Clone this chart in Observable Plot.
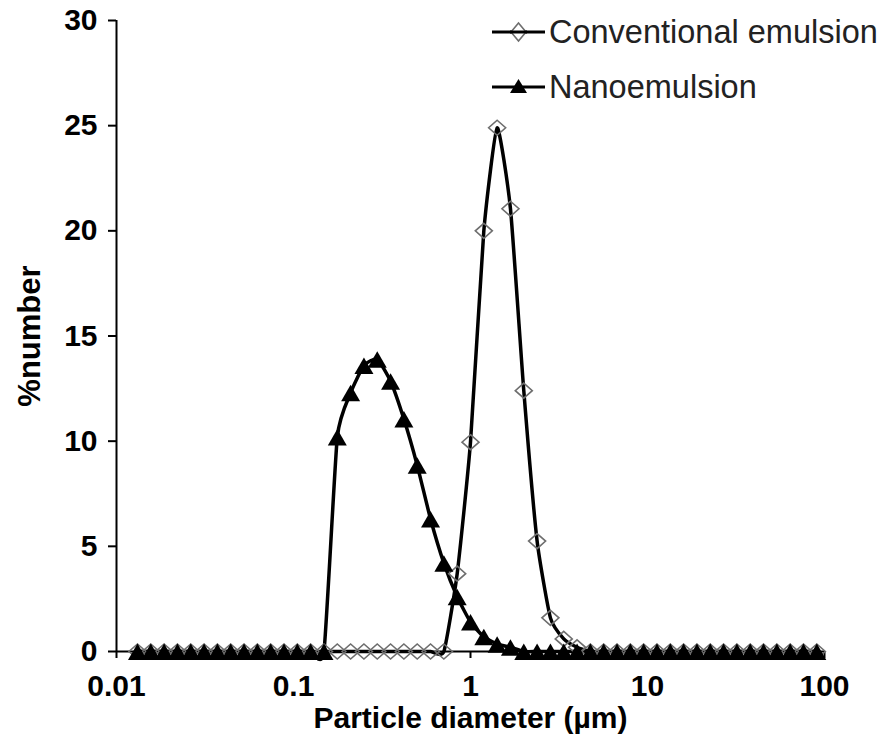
<!DOCTYPE html>
<html><head><meta charset="utf-8">
<script src="https://cdn.jsdelivr.net/npm/d3@7"></script>
<script src="https://cdn.jsdelivr.net/npm/@observablehq/plot@0.6"></script>
<style>
body{margin:0;background:#fff;}
#wrap{position:relative;width:886px;height:740px;font-family:"Liberation Sans",Arial,sans-serif;}
#legend{position:absolute;left:0;top:0;pointer-events:none;}
</style></head><body><div id="wrap"></div>
<script>
// Particle diameters (µm) of the measurement bins
const diameters = [0.01314, 0.015625, 0.01858, 0.0221, 0.02628, 0.03125, 0.03716, 0.04419, 0.05256, 0.0625,
  0.07433, 0.08839, 0.10511, 0.125, 0.14865, 0.17678, 0.21022, 0.25, 0.2973, 0.35355,
  0.42045, 0.5, 0.5946, 0.70711, 0.8409, 1, 1.18921, 1.41421, 1.68179, 2,
  2.37841, 2.82843, 3.36359, 4, 4.75683, 5.65685, 6.72717, 8, 9.51366, 11.31371,
  13.45434, 16, 19.02731, 22.62742, 26.90869, 32, 38.05463, 45.25483, 53.81737, 64,
  76.10926, 90.50967];
const conventional = [0, 0, 0, 0, 0, 0, 0, 0, 0, 0,
  0, 0, 0, 0, 0, 0, 0, 0, 0, 0,
  0, 0, 0, 0, 3.7, 9.95, 20.0, 24.9, 21.05, 12.4,
  5.25, 1.6, 0.6, 0.2, 0, 0, 0, 0, 0, 0,
  0, 0, 0, 0, 0, 0, 0, 0, 0, 0,
  0, 0];
const nanoemulsion = [0, 0, 0, 0, 0, 0, 0, 0, 0, 0,
  0, 0, 0, 0, 0, 10.2, 12.3, 13.6, 13.9, 12.85,
  11.05, 8.85, 6.3, 4.2, 2.6, 1.4, 0.7, 0.35, 0.2, 0,
  0, 0, 0, 0, 0, 0, 0, 0, 0, 0,
  0, 0, 0, 0, 0, 0, 0, 0, 0, 0,
  0, 0];
const seriesNames = ["Conventional emulsion", "Nanoemulsion"];
const xTicks = [0.01, 0.1, 1, 10, 100];
const xTickLabels = ["0.01", "0.1", "1", "10", "100"];
const yTicks = [0, 5, 10, 15, 20, 25, 30];
const xTitle = "Particle diameter (µm)";
const yTitle = "%number";

const convRows = diameters.map((d, i) => ({d, v: conventional[i]}));
const nanoRows = diameters.map((d, i) => ({d, v: nanoemulsion[i]}));

const FONT = '"Liberation Sans", Arial, sans-serif';
const diamondSym = {draw(ctx) { ctx.moveTo(0, -7.5); ctx.lineTo(8.5, 0); ctx.lineTo(0, 7.5); ctx.lineTo(-8.5, 0); ctx.closePath(); }};
const triSym = {draw(ctx) { ctx.moveTo(0, -8); ctx.lineTo(9.5, 8.5); ctx.lineTo(-9.5, 8.5); ctx.closePath(); }};

const chart = Plot.plot({
  width: 886, height: 740,
  marginLeft: 116, marginRight: 62, marginTop: 20, marginBottom: 89,
  style: {fontFamily: FONT, color: "black", background: "white", overflow: "visible"},
  x: {type: "log", domain: [0.01, 100], axis: null},
  y: {domain: [0, 30], axis: null},
  marks: [
    Plot.ruleY([0], {stroke: "black", strokeWidth: 2}),
    Plot.ruleX([0.01], {stroke: "black", strokeWidth: 2}),
    Plot.axisX({ticks: xTicks, tickFormat: (d) => xTickLabels[xTicks.indexOf(d)], tickSize: 7, tickPadding: 16,
      fontSize: 30, fontWeight: "bold", strokeWidth: 2, label: null, fill: "black"}),
    Plot.axisY({ticks: yTicks, tickSize: 8, tickPadding: 11, fontSize: 30, fontWeight: "bold",
      strokeWidth: 2, label: null, fill: "black"}),
    Plot.line(convRows, {x: "d", y: "v", curve: "cardinal", tension: 0.5, stroke: "black", strokeWidth: 3.5}),
    Plot.line(nanoRows, {x: "d", y: "v", curve: "cardinal", tension: 0.5, stroke: "black", strokeWidth: 3.5}),
    Plot.dot(convRows, {x: "d", y: "v", symbol: diamondSym, r: 6, stroke: "#6e6e6e", strokeWidth: 1.6, fill: "none"}),
    Plot.dot(nanoRows, {x: "d", y: "v", symbol: triSym, r: 6, fill: "black", stroke: "none"}),
    Plot.text([xTitle], {text: (d) => d, frameAnchor: "bottom", dy: 76, fontSize: 30, fontWeight: "bold", fill: "black"}),
    Plot.text([yTitle], {text: (d) => d, frameAnchor: "left", dx: -86, rotate: -90, textAnchor: "middle", fontSize: 31, fontWeight: "bold", fill: "black"})
  ]
});
const wrap = document.getElementById("wrap");
wrap.appendChild(chart);

// Legend (top right)
const leg = d3.select(wrap).append("svg").attr("id", "legend").attr("width", 886).attr("height", 120);
const legRows = [
  {name: seriesNames[0], y: 32, sym: "diamond"},
  {name: seriesNames[1], y: 87, sym: "triangle"}
];
legRows.forEach(r => {
  const g = leg.append("g");
  g.append("line").attr("x1", 492).attr("x2", 545).attr("y1", r.y).attr("y2", r.y).attr("stroke", "black").attr("stroke-width", 3);
  if (r.sym === "diamond") {
    g.append("path").attr("d", `M518.5,${r.y - 9}L526,${r.y}L518.5,${r.y + 9}L511,${r.y}Z`).attr("fill", "white").attr("stroke", "#6e6e6e").attr("stroke-width", 1.6);
    g.append("line").attr("x1", 510).attr("x2", 527).attr("y1", r.y).attr("y2", r.y).attr("stroke", "black").attr("stroke-width", 3);
  } else {
    g.append("path").attr("d", `M518.5,${r.y - 8}L527,${r.y + 6}L510,${r.y + 6}Z`).attr("fill", "black");
  }
  g.append("text").attr("x", 549).attr("y", r.y + 11).attr("font-family", FONT).attr("font-size", 32.5).attr("fill", "#222").text(r.name);
});
</script>
</body></html>
